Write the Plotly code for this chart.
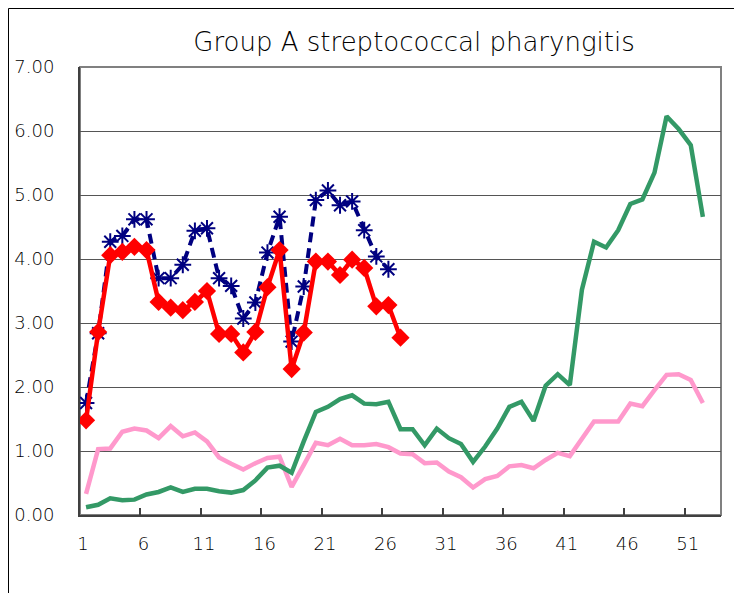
import plotly.graph_objects as go

weeks_all = list(range(1, 53))
weeks_blue = list(range(1, 27))
weeks_red = list(range(1, 28))
x_tick_weeks = [1, 6, 11, 16, 21, 26, 31, 36, 41, 46, 51]
x_boundaries = [5.5, 10.5, 15.5, 20.5, 25.5, 30.5, 35.5, 40.5, 45.5, 50.5]
y_ticks = [0, 1, 2, 3, 4, 5, 6, 7]

blue_vals = [1.75, 2.84, 4.27, 4.36, 4.62, 4.62, 3.70, 3.70, 3.91, 4.44, 4.48, 3.70, 3.58,
             3.07, 3.32, 4.10, 4.66, 2.71, 3.57, 4.92, 5.07, 4.84, 4.90, 4.45, 4.04, 3.84]
red_vals = [1.48, 2.86, 4.06, 4.11, 4.19, 4.14, 3.33, 3.24, 3.20, 3.33, 3.50, 2.83, 2.83,
            2.54, 2.86, 3.56, 4.14, 2.28, 2.85, 3.96, 3.96, 3.75, 3.99, 3.86, 3.26, 3.28, 2.77]
green_vals = [0.12, 0.16, 0.26, 0.23, 0.24, 0.32, 0.36, 0.43, 0.36, 0.41,
              0.41, 0.37, 0.35, 0.39, 0.54, 0.74, 0.77, 0.66, 1.15, 1.61,
              1.69, 1.81, 1.87, 1.74, 1.73, 1.77, 1.34, 1.34, 1.09, 1.35,
              1.20, 1.11, 0.83, 1.07, 1.35, 1.69, 1.77, 1.47, 2.02, 2.20,
              2.03, 3.52, 4.27, 4.18, 4.45, 4.86, 4.93, 5.35, 6.23, 6.03,
              5.78, 4.66]
pink_vals = [0.33, 1.03, 1.04, 1.30, 1.35, 1.32, 1.20, 1.39, 1.23, 1.29,
             1.15, 0.90, 0.80, 0.71, 0.81, 0.89, 0.91, 0.44, 0.78, 1.13,
             1.09, 1.19, 1.09, 1.09, 1.11, 1.06, 0.96, 0.95, 0.81, 0.82,
             0.68, 0.59, 0.43, 0.56, 0.61, 0.76, 0.78, 0.73, 0.86, 0.97,
             0.92, 1.20, 1.46, 1.46, 1.46, 1.74, 1.70, 1.95, 2.19, 2.20,
             2.11, 1.75]

FONT = "DejaVu Sans"

fig = go.Figure()
fig.add_trace(go.Scatter(x=weeks_all, y=pink_vals, mode="lines",
                         line=dict(color="#FF99CC", width=4.5)))
fig.add_trace(go.Scatter(x=weeks_all, y=green_vals, mode="lines",
                         line=dict(color="#339966", width=4.5)))
fig.add_trace(go.Scatter(x=weeks_blue, y=blue_vals, mode="lines+markers",
                         line=dict(color="#000080", width=4, dash="10px,6px"),
                         marker=dict(symbol="asterisk-open", size=14,
                                     line=dict(color="#000080", width=2))))
fig.add_trace(go.Scatter(x=weeks_red, y=red_vals, mode="lines+markers",
                         line=dict(color="#FF0000", width=4.5),
                         marker=dict(symbol="diamond", size=14, color="#FF0000")))

# the page body has an 8px margin, so the figure is sized to fill the rest of the window
W, H = 734, 585
L, R, T, B = 72, 21, 59, 78
pw, ph = W - L - R, H - T - B

def px_to_paper(x, y):
    return (x - L) / pw, (H - B - y) / ph

# outer chart frame
x0, y0 = px_to_paper(0.5, 0.5)
x1, y1 = px_to_paper(760, 610)
shapes = [
    dict(type="rect", xref="paper", yref="paper", x0=x0, y0=y1, x1=x1, y1=y0,
         line=dict(color="#000000", width=1), layer="below"),
    dict(type="rect", xref="paper", yref="paper", x0=0, y0=0, x1=1, y1=1,
         line=dict(color="#808080", width=2), layer="below"),
]

fig.update_layout(
    width=W, height=H,
    margin=dict(l=L, r=R, t=T, b=B, autoexpand=False),
    paper_bgcolor="white", plot_bgcolor="white",
    showlegend=False,
    shapes=shapes,
    font=dict(family=FONT, size=18, color="#000000"),
    title=dict(text="Group A streptococcal pharyngitis", x=406 / W, xanchor="center",
               xref="container", y=1 - 34 / H, yanchor="middle",
               font=dict(family=FONT, size=26, color="#000000", weight=300)),
)
fig.update_xaxes(range=[0.5, 53.5], tickmode="array", tickvals=x_tick_weeks,
                 ticktext=[str(v) for v in x_tick_weeks], ticks="",
                 showgrid=False, zeroline=False, showline=True, automargin=False,
                 linecolor="#404040", linewidth=2, ticklabelstandoff=11,
                 ticklabelshift=-3,
                 minor=dict(tickvals=x_boundaries, ticks="inside", ticklen=7,
                            tickcolor="#404040", tickwidth=1.5, showgrid=False),
                 tickfont=dict(family=FONT, size=18, weight=300))
fig.update_yaxes(range=[0, 7], tickmode="array", tickvals=y_ticks,
                 ticktext=[f"{v:.2f}" for v in y_ticks], ticks="",
                 showgrid=True, gridcolor="#555555", gridwidth=1.2, automargin=False,
                 zeroline=False, showline=True, linecolor="#404040", linewidth=2,
                 ticklabelstandoff=20, tickfont=dict(family=FONT, size=18, weight=300))

fig.write_html("out.html")
